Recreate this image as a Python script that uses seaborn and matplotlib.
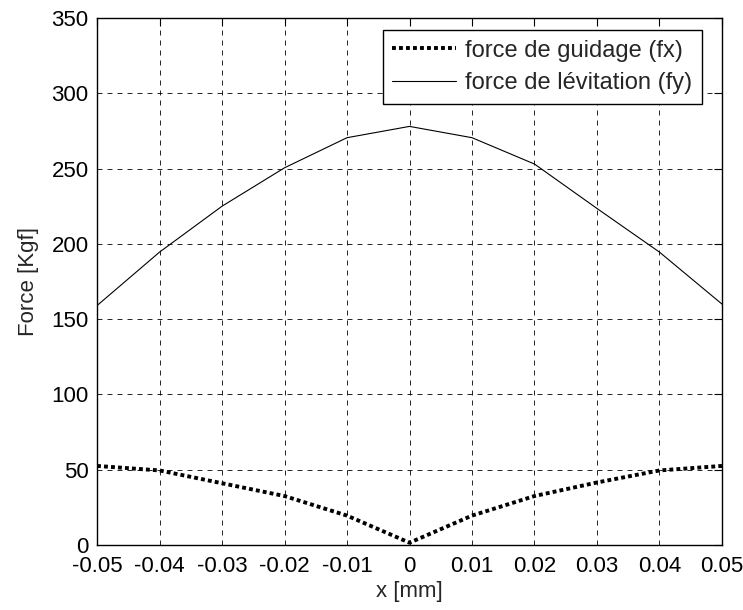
import matplotlib
matplotlib.use("Agg")
import matplotlib.pyplot as plt
import seaborn as sns
import pandas as pd

x_mm = [-0.05, -0.04, -0.03, -0.02, -0.01, 0.0, 0.01, 0.02, 0.03, 0.04, 0.05]
fx = [52.5, 49.5, 41.0, 32.5, 19.5, 1.5, 19.5, 32.5, 41.5, 49.5, 52.5]
fy = [159.0, 194.5, 225.0, 250.5, 270.5, 278.0, 270.5, 253.0, 223.5, 194.5, 160.0]
labels = ["force de guidage (fx)", "force de lévitation (fy)"]

sns.set_style("white")
plt.rcParams['font.family'] = ['Liberation Sans', 'DejaVu Sans']

fig = plt.figure(figsize=(7.43, 6.10), dpi=100)
ax = fig.add_axes([0.1306, 0.1066, 0.8411, 0.8639])

df = pd.DataFrame({"x": x_mm, "fx": fx, "fy": fy})
sns.lineplot(data=df, x="x", y="fx", ax=ax, color="black", linewidth=2.8,
             linestyle=(0, (1, 0.8)), label=labels[0])
sns.lineplot(data=df, x="x", y="fy", ax=ax, color="black", linewidth=0.8,
             label=labels[1])

ax.set_xlim(-0.05, 0.05)
ax.set_ylim(0, 350)
xt = [-0.05, -0.04, -0.03, -0.02, -0.01, 0, 0.01, 0.02, 0.03, 0.04, 0.05]
ax.set_xticks(xt)
ax.set_xticklabels(["-0.05", "-0.04", "-0.03", "-0.02", "-0.01", "0", "0.01", "0.02", "0.03", "0.04", "0.05"])
ax.set_yticks(range(0, 351, 50))
ax.tick_params(direction="in", length=6, width=0.8, top=True, right=True,
               labelsize=16, colors="black")
ax.tick_params(axis="y", pad=6)
ax.tick_params(axis="x", pad=8)
ax.grid(True, color="black", linestyle=(0, (6, 6)), linewidth=0.6)
for s in ax.spines.values():
    s.set_color("black")
    s.set_linewidth(1.0)
ax.set_xlabel("x [mm]", fontsize=16, labelpad=3)
ax.set_ylabel("Force [Kgf]", fontsize=16, labelpad=9)

leg = ax.legend(loc="upper right", bbox_to_anchor=(0.968, 0.977), fontsize=17,
                frameon=True, fancybox=False, framealpha=1, edgecolor="black",
                handlelength=2.7, borderpad=0.4, labelspacing=0.45, handletextpad=0.4,
                borderaxespad=0.0)
leg.get_frame().set_linewidth(1.0)

fig.savefig("out.png", dpi=100)
